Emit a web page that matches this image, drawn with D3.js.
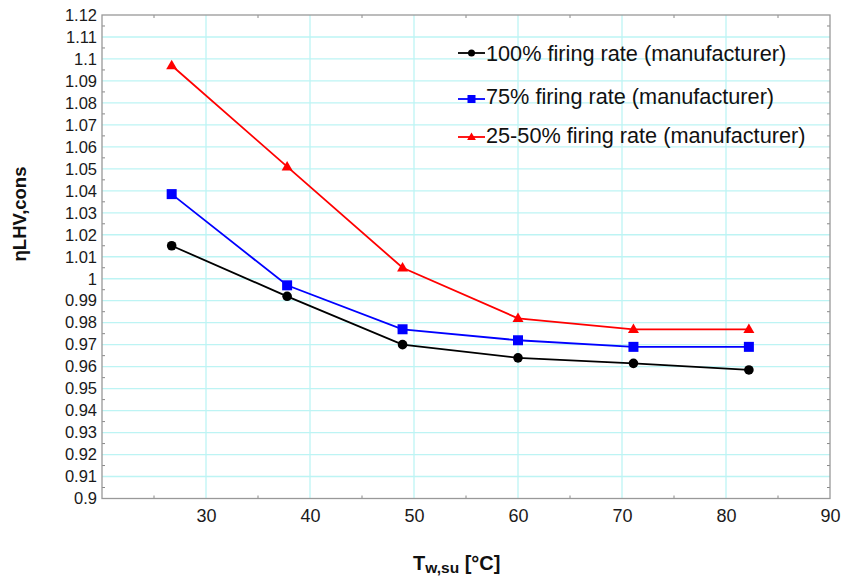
<!DOCTYPE html>
<html><head><meta charset="utf-8">
<script src="https://cdn.jsdelivr.net/npm/d3@7"></script>
<style>body{margin:0;background:#fff}svg{display:block;font-family:"Liberation Sans",Arial,sans-serif}</style>
</head><body><svg id="c" width="844" height="581"></svg>
<script>
const xValues = [26.7, 37.8, 48.9, 60.0, 71.1, 82.2];
const series100 = [1.015, 0.992, 0.970, 0.964, 0.9615, 0.9585];
const series75 = [1.0385, 0.997, 0.977, 0.972, 0.969, 0.969];
const series2550 = [1.097, 1.051, 1.005, 0.982, 0.977, 0.977];
const seriesNames = ["100% firing rate (manufacturer)", "75% firing rate (manufacturer)", "25-50% firing rate (manufacturer)"];
const xTicks = [30, 40, 50, 60, 70, 80, 90];
const yTicks = [0.9,0.91,0.92,0.93,0.94,0.95,0.96,0.97,0.98,0.99,1,1.01,1.02,1.03,1.04,1.05,1.06,1.07,1.08,1.09,1.1,1.11,1.12];

const svg = d3.select("#c");
const L = 102, R = 830, T = 15, B = 498.5;
const x = d3.scaleLinear().domain([20, 90]).range([L, R]);
const y = d3.scaleLinear().domain([0.9, 1.12]).range([B, T]);

// grid
const g = svg.append("g");
g.selectAll(".hg").data(yTicks.slice(1, -1)).join("line")
  .attr("x1", L).attr("x2", R).attr("y1", d => y(d)).attr("y2", d => y(d))
  .attr("stroke", "#bdf4f4").attr("stroke-width", 1.3);
g.selectAll(".vg").data(xTicks.slice(0, -1)).join("line")
  .attr("y1", T).attr("y2", B).attr("x1", d => x(d)).attr("x2", d => x(d))
  .attr("stroke", "#bdf4f4").attr("stroke-width", 1.3);

// minor ticks (half steps), inward on all sides
const yMinor = d3.range(0, 22).map(i => 0.905 + i * 0.01);
const xMinor = [25, 35, 45, 55, 65, 75, 85];
const tk = svg.append("g").attr("stroke", "#888").attr("stroke-width", 1);
yMinor.forEach(v => {
  tk.append("line").attr("x1", L).attr("x2", L + 3).attr("y1", y(v)).attr("y2", y(v));
  tk.append("line").attr("x1", R).attr("x2", R - 3).attr("y1", y(v)).attr("y2", y(v));
});
xMinor.forEach(v => {
  tk.append("line").attr("y1", B).attr("y2", B - 3).attr("x1", x(v)).attr("x2", x(v));
  tk.append("line").attr("y1", T).attr("y2", T + 3).attr("x1", x(v)).attr("x2", x(v));
});

// frame
svg.append("rect").attr("x", L).attr("y", T).attr("width", R - L).attr("height", B - T)
  .attr("fill", "none").attr("stroke", "#999").attr("stroke-width", 1.3);

// axis labels via d3 axes
const yAxis = svg.append("g").attr("transform", `translate(${L},0)`)
  .call(d3.axisLeft(y).tickValues(yTicks).tickSize(0).tickPadding(5).tickFormat(d => d3.format("")(+d.toFixed(2))));
yAxis.select(".domain").remove();
yAxis.selectAll("text").attr("font-size", 16.5).attr("fill", "#1a1a1a").attr("font-family", "Liberation Sans, Arial, sans-serif");

const xAxis = svg.append("g").attr("transform", `translate(0,${B})`)
  .call(d3.axisBottom(x).tickValues(xTicks).tickSize(0).tickPadding(11));
xAxis.select(".domain").remove();
xAxis.selectAll("text").attr("font-size", 18).attr("fill", "#1a1a1a").attr("font-family", "Liberation Sans, Arial, sans-serif");

// series
const colors = ["#000000", "#0000ff", "#ff0000"];
const allSeries = [series100, series75, series2550];
const lineGen = d3.line().x((d, i) => x(xValues[i])).y(d => y(d));

function marker(sel, type, cx, cy, s, color) {
  if (type === 0) sel.append("circle").attr("cx", cx).attr("cy", cy).attr("r", s).attr("fill", color);
  else if (type === 1) sel.append("rect").attr("x", cx - s).attr("y", cy - s).attr("width", 2 * s).attr("height", 2 * s).attr("fill", color);
  else sel.append("path").attr("d", `M${cx},${cy - s * 1.15}L${cx + s * 1.1},${cy + s * 0.75}L${cx - s * 1.1},${cy + s * 0.75}Z`).attr("fill", color);
}

allSeries.forEach((s, k) => {
  svg.append("path").datum(s).attr("d", lineGen).attr("fill", "none")
    .attr("stroke", colors[k]).attr("stroke-width", 1.8);
  const mg = svg.append("g");
  s.forEach((v, i) => marker(mg, k, x(xValues[i]), y(v), k === 0 ? 4.8 : 5, colors[k]));
});

// legend
const legBase = [61, 104, 143];
const legMark = [53, 99, 137];
seriesNames.forEach((n, k) => {
  const cy = legMark[k];
  svg.append("line").attr("x1", 458).attr("x2", 485).attr("y1", cy).attr("y2", cy)
    .attr("stroke", colors[k]).attr("stroke-width", 1.8);
  marker(svg, k, 471.5, cy, k === 0 ? 3.5 : 4, colors[k]);
  svg.append("text").attr("x", 486).attr("y", legBase[k]).attr("font-size", 21.7)
    .attr("fill", "#111").text(n);
});

// axis titles
const yt = svg.append("text").attr("transform", "translate(26,214) rotate(-90)")
  .attr("text-anchor", "middle").attr("font-weight", "bold").attr("font-size", 18.5).attr("fill", "#111");
yt.append("tspan").text("η");
yt.append("tspan").text("LHV,cons");

const xt = svg.append("text").attr("x", 413).attr("y", 570)
  .attr("font-weight", "bold").attr("font-size", 20).attr("fill", "#111");
xt.append("tspan").text("T");
xt.append("tspan").attr("font-size", 15.5).attr("dy", 3).text("w,su");
xt.append("tspan").attr("dy", -3).text(" [°C]");
</script></body></html>
